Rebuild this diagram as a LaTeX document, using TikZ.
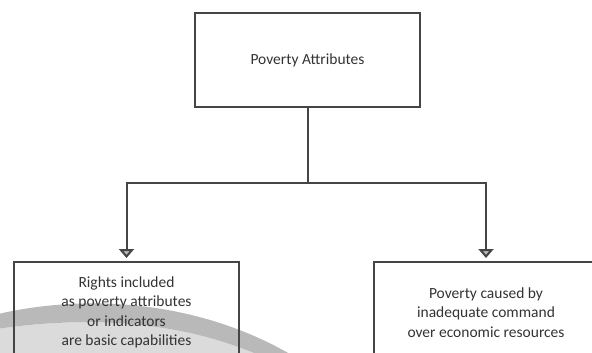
\documentclass[tikz,border=0pt]{standalone}
\usepackage{fontspec}
\setmainfont{Carlito}
\usetikzlibrary{arrows.meta}
\definecolor{inkgray}{HTML}{454545}
\tikzset{attrbox/.style={draw=inkgray,
			line width=2.4pt,
			align=center,
			text=black!80,
			font=\fontsize{15.5}{19.5}\selectfont},
		branch/.style={draw=inkgray,line width=2pt,
			-{Triangle[width=15pt,length=9pt,fill=gray!55]},
			shorten >=3pt}}

\begin{document}
\begin{tikzpicture}[x=1pt,y=-1pt]
		\useasboundingbox (0,0) rectangle (592,353);
		\clip (0,0) rectangle (592,353);
		
		% grey swoosh behind the lower boxes
		\fill[color=gray!28] (-10,330) .. controls (80,316) and (180,318) .. (270,360) -- (-10,360) -- cycle;
		\begin{scope}
			\clip (-10,316) .. controls (80,293) and (200,298) .. (300,360) -- (-10,360) -- cycle;
			\fill[color=gray!55] (-10,316) .. controls (80,293) and (200,298) .. (300,360)
				-- (270,360) .. controls (180,318) and (80,316) .. (-10,330) -- cycle;
		\end{scope}
		
		\node[attrbox, minimum width=225pt, minimum height=94pt] (attributes) at (307.5,60) {Poverty Attributes};
		\node[attrbox, minimum width=225pt, minimum height=100pt, anchor=north] (rights) at (126.5,261)
			{Rights included\\as poverty attributes\\or indicators\\are basic capabilities};
		\node[attrbox, minimum width=224pt, minimum height=100pt, anchor=north] (resources) at (486,261)
			{Poverty caused by\\inadequate command\\over economic resources};
		
		\coordinate (split) at (307.5,183);
		
		\draw[draw=inkgray,line width=2pt] (attributes.south) -- (split);
		\draw[branch] (split) -| (rights.north);
		\draw[branch] (split) -| (resources.north);
	\end{tikzpicture}
\end{document}
